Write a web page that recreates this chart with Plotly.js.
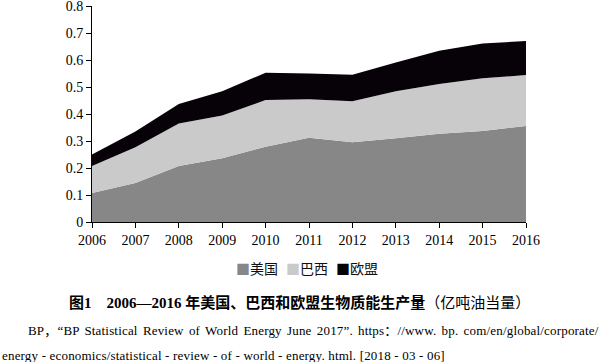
<!DOCTYPE html>
<html>
<head>
<meta charset="utf-8">
<script src="https://cdn.plot.ly/plotly-3.0.1.min.js"></script>
<style>
html,body{margin:0;padding:0;background:#fff;}
#chart{width:600px;height:362px;}
g.annotation[data-index="1"] text{letter-spacing:0.18px;word-spacing:1.8px;}
g.annotation[data-index="2"] text{letter-spacing:0.18px;}
</style>
</head>
<body>
<div id="chart"></div>
<script>
var years = [2006, 2007, 2008, 2009, 2010, 2011, 2012, 2013, 2014, 2015, 2016];
var usa    = [0.107, 0.144, 0.207, 0.236, 0.279, 0.312, 0.295, 0.310, 0.327, 0.337, 0.356];
var brazil = [0.100, 0.133, 0.158, 0.158, 0.173, 0.143, 0.152, 0.174, 0.184, 0.195, 0.188];
var eu     = [0.043, 0.058, 0.072, 0.090, 0.101, 0.095, 0.098, 0.107, 0.123, 0.129, 0.126];
var seriesNames = ['美国', '巴西', '欧盟'];
var seriesColors = ['#878787', '#cacaca', '#060208'];
var yTicks = [0, 0.1, 0.2, 0.3, 0.4, 0.5, 0.6, 0.7, 0.8];
var yTickText = ['0', '0.1', '0.2', '0.3', '0.4', '0.5', '0.6', '0.7', '0.8'];
var captionBold = '图1　2006—2016 年美国、巴西和欧盟生物质能生产量';
var captionUnit = '（亿吨油当量）';
var sourceLine1 = 'BP，“BP Statistical Review of World Energy June 2017”. https：//www. bp. com/en/global/corporate/';
var sourceLine2 = 'energy - economics/statistical - review - of - world - energy. html. [2018 - 03 - 06]';

var serif = '"Liberation Serif", "Noto Sans CJK SC", serif';
var values = [usa, brazil, eu];
var legendIds = ['legend', 'legend2', 'legend3'];
var legendX = [0.2397, 0.3549, 0.4701];
var traces = [];
values.forEach(function (v, i) {
  traces.push({
    type: 'scatter', x: years, y: v, stackgroup: 'one', mode: 'none',
    fillcolor: seriesColors[i], name: seriesNames[i], showlegend: false,
    hoverinfo: 'x+y+name'
  });
});
seriesNames.forEach(function (n, i) {
  traces.push({
    type: 'scatter', x: [null], y: [null], mode: 'markers',
    marker: {opacity: 0, size: 0, color: 'rgba(0,0,0,0)', line: {width: 0}}, legend: legendIds[i],
    name: '<span style="color:' + seriesColors[i] + '">■</span>' + n,
    showlegend: true
  });
});

var layout = {
  width: 600, height: 362,
  margin: {l: 92, r: 74, t: 6, b: 140},
  paper_bgcolor: '#fff', plot_bgcolor: '#fff',
  showlegend: true,
  xaxis: {
    range: [2006, 2016], tickvals: years, ticktext: years.map(String),
    ticks: 'outside', ticklen: 5, tickcolor: '#000', showline: true, linecolor: '#000', linewidth: 1,
    showgrid: false, zeroline: false, tickfont: {family: serif, size: 14, color: '#000'}, fixedrange: true,
    ticklabeloverflow: 'allow'
  },
  yaxis: {
    range: [0, 0.8], tickvals: yTicks, ticktext: yTickText,
    ticks: 'outside', ticklen: 5, tickcolor: '#000', showline: true, linecolor: '#000', linewidth: 1,
    showgrid: false, zeroline: false, tickfont: {family: serif, size: 14, color: '#000'}, fixedrange: true,
    ticklabeloverflow: 'allow'
  },
  annotations: [
    {xref: 'paper', yref: 'paper', x: (299 - 92) / 434, y: (222 - 302) / 216, xanchor: 'center', yanchor: 'middle',
     showarrow: false, text: '<b>' + captionBold + '</b>' + captionUnit,
     font: {family: serif, size: 15, color: '#000'}},
    {xref: 'paper', yref: 'paper', x: (26 - 92) / 434, y: (222 - 330) / 216, xanchor: 'left', yanchor: 'middle', align: 'left',
     showarrow: false, text: sourceLine1, font: {family: serif, size: 13, color: '#000'}},
    {xref: 'paper', yref: 'paper', x: (0 - 92) / 434, y: (222 - 355) / 216, xanchor: 'left', yanchor: 'middle', align: 'left',
     showarrow: false, text: sourceLine2, font: {family: serif, size: 13, color: '#000'}}
  ]
};
legendIds.forEach(function (id, i) {
  layout[id] = {
    orientation: 'h', x: legendX[i], xanchor: 'left', y: (222 - 269) / 216, yanchor: 'middle',
    font: {family: '"Noto Sans CJK SC", sans-serif', size: 14, color: '#111'},
    bgcolor: 'rgba(0,0,0,0)'
  };
});
Plotly.newPlot('chart', traces, layout, {staticPlot: true, displayModeBar: false});
</script>
</body>
</html>
